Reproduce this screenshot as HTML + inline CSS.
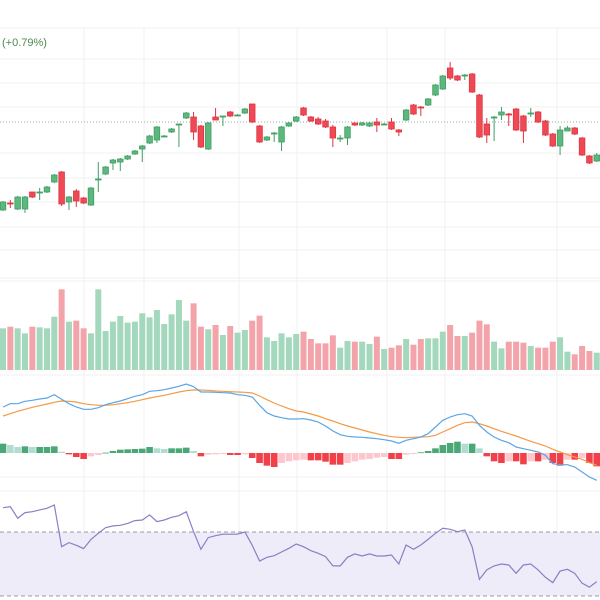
<!DOCTYPE html>
<html><head><meta charset="utf-8">
<style>
html,body{margin:0;padding:0;background:#fff;overflow:hidden;}
svg{display:block;font-family:"Liberation Sans",sans-serif;}
</style></head>
<body>
<svg id="chart" width="600" height="600" viewBox="0 0 600 600" xmlns="http://www.w3.org/2000/svg">
<g id="grid"></g>
<text x="2" y="46" font-size="11" fill="#4e8a4e">(+0.79%)</text>
<g id="candles"></g>
<g id="volume"></g>
<g id="macd"></g>
<g id="rsi"></g>
</svg>
<script>
// candle data in price units (higher = higher price)
const opens  = [90,97,91,91,108,108,108,118,128,98,109,102,95,121,126,137,138,141,146,151,157,160,164,168,176,182,183,174,151,183,184,188,185,187,196,174,160,167,158,174,179,192,183,181,179,173,162,162,177,175,174,178,176,178,170,180,195,193,195,205,211,232,224,225,226,205,176,183,185,186,191,184,187,188,179,166,154,169,172,162,144,139];
const closes = [98,96,103,103,103,108,113,125,96,103,99,97,112,121,133,140,141,144,149,154,164,173,164,171,176,187,168,153,177,180,184,184,185,191,178,158,163,167,173,177,183,185,179,176,173,162,162,173,175,177,177,175,176,171,168,190,186,192,201,215,224,222,220,225,208,163,165,183,188,185,170,169,187,178,165,154,170,172,166,145,137,145];
const highs  = [99,100,104,104,104,112,114,126,129,104,111,103,113,138,134,141,142,145,150,155,165,174,165,172,176,188,188,175,178,192,184,189,186,192,196,175,164,168,174,178,184,193,184,183,181,175,165,174,176,178,178,182,177,182,171,191,196,194,202,216,225,238,225,226,227,206,182,184,193,187,192,185,192,189,180,167,174,174,173,163,145,147];
const lows   = [89,92,90,87,102,100,107,117,94,90,93,96,94,108,125,130,129,140,145,138,156,157,163,167,153,181,160,152,150,180,174,183,184,186,177,157,159,158,149,173,178,184,178,175,172,153,158,155,174,174,173,168,175,170,164,179,185,184,194,204,210,220,219,220,207,162,157,159,180,174,169,157,183,177,164,153,145,170,165,144,136,138];
// volume (arbitrary units)
const volumes = [125,130,125,110,130,128,125,160,242,145,148,125,110,242,117,145,162,142,145,170,158,180,138,167,210,148,200,130,122,135,105,132,112,120,148,163,98,87,110,98,108,115,93,80,80,104,67,87,85,85,78,100,63,67,74,93,76,93,95,95,115,135,102,102,112,148,137,85,65,85,85,82,72,67,67,85,98,55,47,72,57,52];
// MACD values (DIF, DEA, histogram)
const dif = [138,148,148,155,158,162,165,175,161,148,138,131,131,136,145,151,156,163,170,175,185,187,190,195,200,207,199,183,183,182,181,180,175,173,168,143,121,111,106,102,102,103,99,93,81,66,55,50,48,47,45,43,40,36,29,38,43,48,58,78,98,108,115,118,111,83,63,48,38,31,18,13,8,3,-7,-32,-35,-35,-42,-57,-72,-82];
const dea = [111,118,125,131,137,142,147,152,156,155,153,148,145,143,143,145,148,151,155,160,165,169,173,178,183,187,189,189,188,186,185,184,183,182,180,171,160,150,141,133,126,123,117,111,103,96,88,81,75,69,63,58,53,49,47,46,47,48,49,53,63,73,83,91,93,88,81,73,65,58,51,43,35,28,21,11,3,-5,-12,-19,-29,-37];
const hist = [28,24,18,20,18,18,18,20,4,-4,-12,-18,-10,-6,1,6,10,11,12,13,18,14,12,14,14,16,6,-10,-5,-4,-3,-6,-6,-4,-15,-30,-38,-42,-30,-25,-22,-20,-22,-22,-26,-35,-35,-30,-25,-20,-18,-14,-12,-18,-18,-5,-3,2,6,14,24,30,34,28,28,14,-10,-25,-30,-25,-25,-34,-25,-25,-20,-30,-38,-20,-20,-15,-30,-40];
// RSI values
const rsi = [85.2,85.8,78.6,82.1,82.7,83.8,84.8,86.9,60.8,63.4,61.7,59.6,65.4,69.2,72.7,73.8,74.2,75.4,77.1,77.5,80.7,76.5,77.5,79.2,80.2,82.7,70.2,59.2,66.5,67.7,68.6,68.6,68.6,70.0,61.7,51.9,54.2,55.2,57.5,59.8,62.5,60.8,58.3,56.7,54.6,48.8,48.8,54.2,56.3,55.0,56.3,55.0,55.0,55.6,50.0,61.9,59.2,61.9,65.4,69.2,72.3,71.7,70.2,71.3,60.8,40.4,46.3,48.8,50.0,49.4,44.2,49.4,50.0,46.3,41.7,38.4,45.6,46.7,44.2,38.0,35.5,39.0];
const rsiLevels = [70,30];

const NS='http://www.w3.org/2000/svg';
function mk(parent,tag,attrs){const e=document.createElementNS(NS,tag);for(const k in attrs)e.setAttribute(k,attrs[k]);parent.appendChild(e);return e;}
const N=opens.length;
const xOf=i=>3+i*7.33;
// axis functions
const yPrice=p=>300-p;
const yVol=v=>370-v/3;
const yMacd=v=>453-v/3;
const rsiY=v=>596-(v-30)*(596-532)/40;

// grid
const grid=document.getElementById('grid');
[28,59,83,107,153,178,202,227,250,278,281,375,477,491].forEach(y=>{
  const l=mk(grid,'line',{x1:0,x2:600,y1:y,y2:y,stroke:'#f0f0f3','stroke-width':1});
  
  
});
[84,144,239,297,387,445,557].forEach(x=>{
  const l=mk(grid,'line',{x1:x,x2:x,y1:28,y2:600,stroke:'#f0f0f3','stroke-width':1});
  
  
});
const pl=mk(grid,'line',{x1:0,x2:600,y1:122,y2:122,stroke:'#9aa','stroke-width':1,'stroke-dasharray':'1 2'});



// candles
const cg=document.getElementById('candles');
const GREEN='#3f9e62', RED='#e0323f';
for(let i=0;i<N;i++){
  const up=closes[i]>=opens[i];
  const c=up?GREEN:RED;
  const x=xOf(i);
  const w=mk(cg,'line',{x1:x,x2:x,y1:yPrice(highs[i]),y2:yPrice(lows[i]),stroke:c,'stroke-width':1});
  
  
  const t=yPrice(Math.max(opens[i],closes[i])), b=yPrice(Math.min(opens[i],closes[i]));
  const r=mk(cg,'rect',{x:x-2.8,y:t,width:5.6,height:Math.max(1,b-t),fill:up?'#5cb87e':'#ee4a55',stroke:c,'stroke-width':0.8});
  
  
}

// volume
const vg=document.getElementById('volume');
for(let i=0;i<N;i++){
  const up=closes[i]>=opens[i];
  const r=mk(vg,'rect',{x:xOf(i)-3,y:yVol(volumes[i]),width:6,height:volumes[i]/3,fill:up?'#a3d8bd':'#f3a4ab'});
  
  
}

// MACD histogram
const mg=document.getElementById('macd');
for(let i=0;i<N;i++){
  const v=hist[i], prev=i>0?hist[i-1]:0;
  let col;
  if(v>=0) col = v>=prev?'#4aa876':'#b0ddd0';
  else col = v<=prev?'#f0414b':'#fcc8cd';
  const y0=yMacd(0), y1=yMacd(v);
  const r=mk(mg,'rect',{x:xOf(i)-3.3,y:Math.min(y0,y1),width:6.6,height:Math.max(0.8,Math.abs(y1-y0)),fill:col});
  
  
}
function polyline(parent,arr,yf,color,name){
  const pts=arr.map((v,i)=>xOf(i).toFixed(1)+','+yf(v).toFixed(1)).join(' ');
  const p=mk(parent,'polyline',{points:pts,fill:'none',stroke:color,'stroke-width':1.2});
  
  
}
polyline(mg,dea,yMacd,'#f39a48','macd-signal-line');
polyline(mg,dif,yMacd,'#5aa6e6','macd-line');

// RSI
const rg=document.getElementById('rsi');
const band=mk(rg,'rect',{x:0,y:rsiY(rsiLevels[0]),width:600,height:rsiY(rsiLevels[1])-rsiY(rsiLevels[0]),fill:'#efecf9'});


rsiLevels.forEach(l=>{
  const ln=mk(rg,'line',{x1:0,x2:600,y1:rsiY(l),y2:rsiY(l),stroke:'#9a9aa6','stroke-width':1,'stroke-dasharray':'4 3'});
  
  
});
polyline(rg,rsi,rsiY,'#8a7fc4','rsi-line');
</script>
</body></html>
